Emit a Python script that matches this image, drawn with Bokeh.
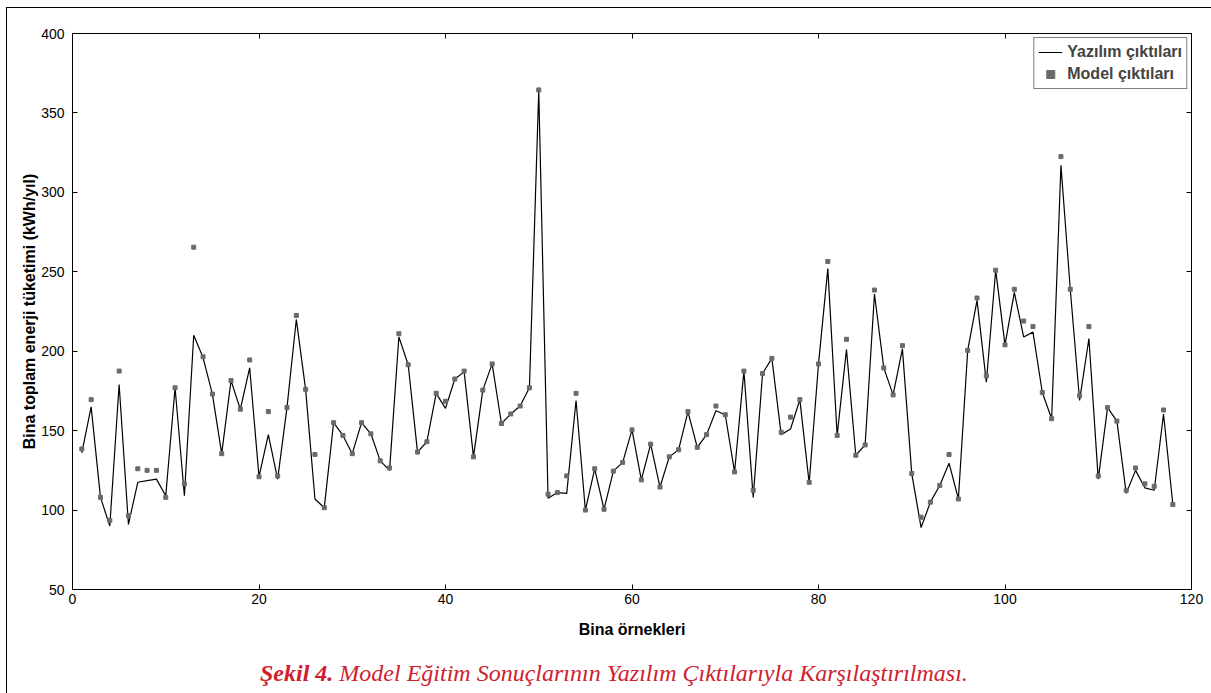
from bokeh.plotting import figure
from bokeh.models import LinearAxis, Legend, LegendItem, Range1d, FixedTicker, Div
from bokeh.layouts import column
from bokeh.embed import file_html
from bokeh.resources import INLINE

# ---- data ----
samples = list(range(1, 119))
software_out = [
    136, 165, 108, 90, 179, 91, 117.5, 118.5, 119.5, 109,
    177, 109, 210, 196, 173, 135.5, 181.5, 163.5, 189.5, 121,
    147.5, 119.5, 164.5, 220, 176, 107, 101.5, 155, 147, 135.5,
    155, 148, 131, 125, 209, 191.5, 136.5, 143, 173.5, 164,
    182.5, 187, 133.5, 175.5, 192, 154.5, 160.5, 165.5, 177, 364,
    107.5, 111, 110.5, 169, 100, 126, 100.5, 124.5, 130, 150.5,
    119, 141.5, 114.5, 133.5, 138, 162, 139.5, 147.5, 162.5, 160,
    124, 187.5, 108, 186, 195.5, 147.5, 151, 169.5, 117, 192,
    252, 147, 201, 134.5, 141, 236, 189.5, 172.5, 201.5, 123,
    89, 105, 115.5, 129.5, 107, 200.5, 232, 180.5, 251, 204,
    237, 209, 212, 174, 157.5, 317, 239, 169, 208, 119.5,
    164.5, 156, 110.5, 125, 114, 112.5, 160.5, 103.5,
]
model_out = [
    138.5, 169.5, 108, 93.5, 187.5, 96.5, 126, 125, 125, 108,
    177, 116.5, 265.5, 196.5, 173, 135.5, 181.5, 163.5, 194.5, 121,
    162, 121.5, 164.5, 222.5, 176, 135, 101.5, 155, 147, 135.5,
    155, 148, 131, 126.5, 211, 191.5, 136.5, 143, 173.5, 168.5,
    182.5, 187.5, 133.5, 175.5, 192, 154.5, 160.5, 165.5, 177, 364.5,
    110, 111, 121.5, 173.5, 100, 126, 100.5, 124.5, 130, 150.5,
    119, 141.5, 114.5, 133.5, 138, 162, 139.5, 147.5, 165.5, 160,
    124, 187.5, 112.5, 186, 195.5, 149, 158.5, 169.5, 117.5, 192,
    256.5, 147, 207.5, 134.5, 141, 238.5, 189.5, 172.5, 203.5, 123,
    95.5, 105, 115.5, 135, 107, 200.5, 233.5, 184.5, 251, 204,
    239, 219, 215.5, 174, 157.5, 322.5, 239, 172, 215.5, 121.5,
    164.5, 156, 112.5, 126.5, 116.5, 115, 163, 103.5,
]
x_ticks = [0, 20, 40, 60, 80, 100, 120]
y_ticks = [50, 100, 150, 200, 250, 300, 350, 400]
legend_labels = ["Yazılım çıktıları", "Model çıktıları"]
x_label = "Bina örnekleri"
y_label = "Bina toplam enerji tüketimi (kWh/yıl)"
caption_bold = "Şekil 4."
caption_rest = "Model Eğitim Sonuçlarının Yazılım Çıktılarıyla Karşılaştırılması."

FONT = "Liberation Sans"

p = figure(width=1198, height=643, output_backend="svg", toolbar_location=None,
           x_range=Range1d(0, 120), y_range=Range1d(50, 400),
           min_border_left=65, min_border_right=14, min_border_top=25, min_border_bottom=62)
p.grid.visible = False
p.outline_line_color = "black"
p.outline_line_width = 1

p.xaxis.ticker = FixedTicker(ticks=x_ticks)
p.yaxis.ticker = FixedTicker(ticks=y_ticks)
for ax in [p.xaxis[0], p.yaxis[0]]:
    ax.major_tick_in = 5
    ax.major_tick_out = 0
    ax.minor_tick_in = 0
    ax.minor_tick_out = 0
    ax.axis_line_color = "black"
    ax.major_label_text_font = FONT
    ax.major_label_text_font_size = "14px"
    ax.major_label_text_color = "black"
    ax.axis_label_text_font = FONT
    ax.axis_label_text_font_size = "16px"
    ax.axis_label_text_font_style = "bold"
    ax.axis_label_text_color = "black"
p.xaxis.axis_label = x_label
p.yaxis.axis_label = y_label
p.xaxis.major_label_standoff = 4
p.xaxis.axis_label_standoff = 14
p.yaxis.major_label_standoff = 8
p.yaxis.axis_label_standoff = 0

right_ax = LinearAxis(ticker=FixedTicker(ticks=y_ticks), major_tick_in=5, major_tick_out=0,
                      minor_tick_in=0, minor_tick_out=0,
                      major_label_overrides={t: "" for t in y_ticks},
                      major_label_standoff=0)
top_ax = LinearAxis(ticker=FixedTicker(ticks=x_ticks), major_tick_in=5, major_tick_out=0,
                    minor_tick_in=0, minor_tick_out=0,
                    major_label_overrides={t: "" for t in x_ticks},
                    major_label_standoff=0)
p.add_layout(right_ax, "right")
p.add_layout(top_ax, "above")

line_r = p.line(samples, software_out, line_color="black", line_width=1.2)
mark_r = p.scatter(samples, model_out, marker="square", size=4,
                   fill_color="#6a6a6a", line_color="#6a6a6a")

legend = Legend(items=[LegendItem(label=legend_labels[0], renderers=[line_r]),
                       LegendItem(label=legend_labels[1], renderers=[mark_r])],
                location="top_right")
legend.margin = 4
legend.padding = 4
legend.spacing = 2
legend.label_standoff = 5
legend.glyph_width = 24
legend.glyph_height = 20
legend.label_height = 20
legend.label_text_font = FONT
legend.label_text_font_size = "16px"
legend.label_text_font_style = "bold"
legend.border_line_color = "black"
legend.border_line_width = 1
legend.background_fill_alpha = 1
p.add_layout(legend)

caption = Div(
    text=(f'<span style="font-weight:bold">{caption_bold}</span> {caption_rest}'),
    width=1198, height=40,
    styles={"font-family": "'Liberation Serif', serif", "font-style": "italic",
            "font-size": "24px", "color": "#d0202e", "padding-left": "248px",
            "box-sizing": "border-box", "white-space": "nowrap"},
)

layout = column(p, caption, spacing=0,
                styles={"border-left": "1px solid black", "border-top": "1px solid black",
                        "margin-left": "6px", "margin-top": "7px"})

open("out.html", "w").write(file_html(layout, INLINE))
